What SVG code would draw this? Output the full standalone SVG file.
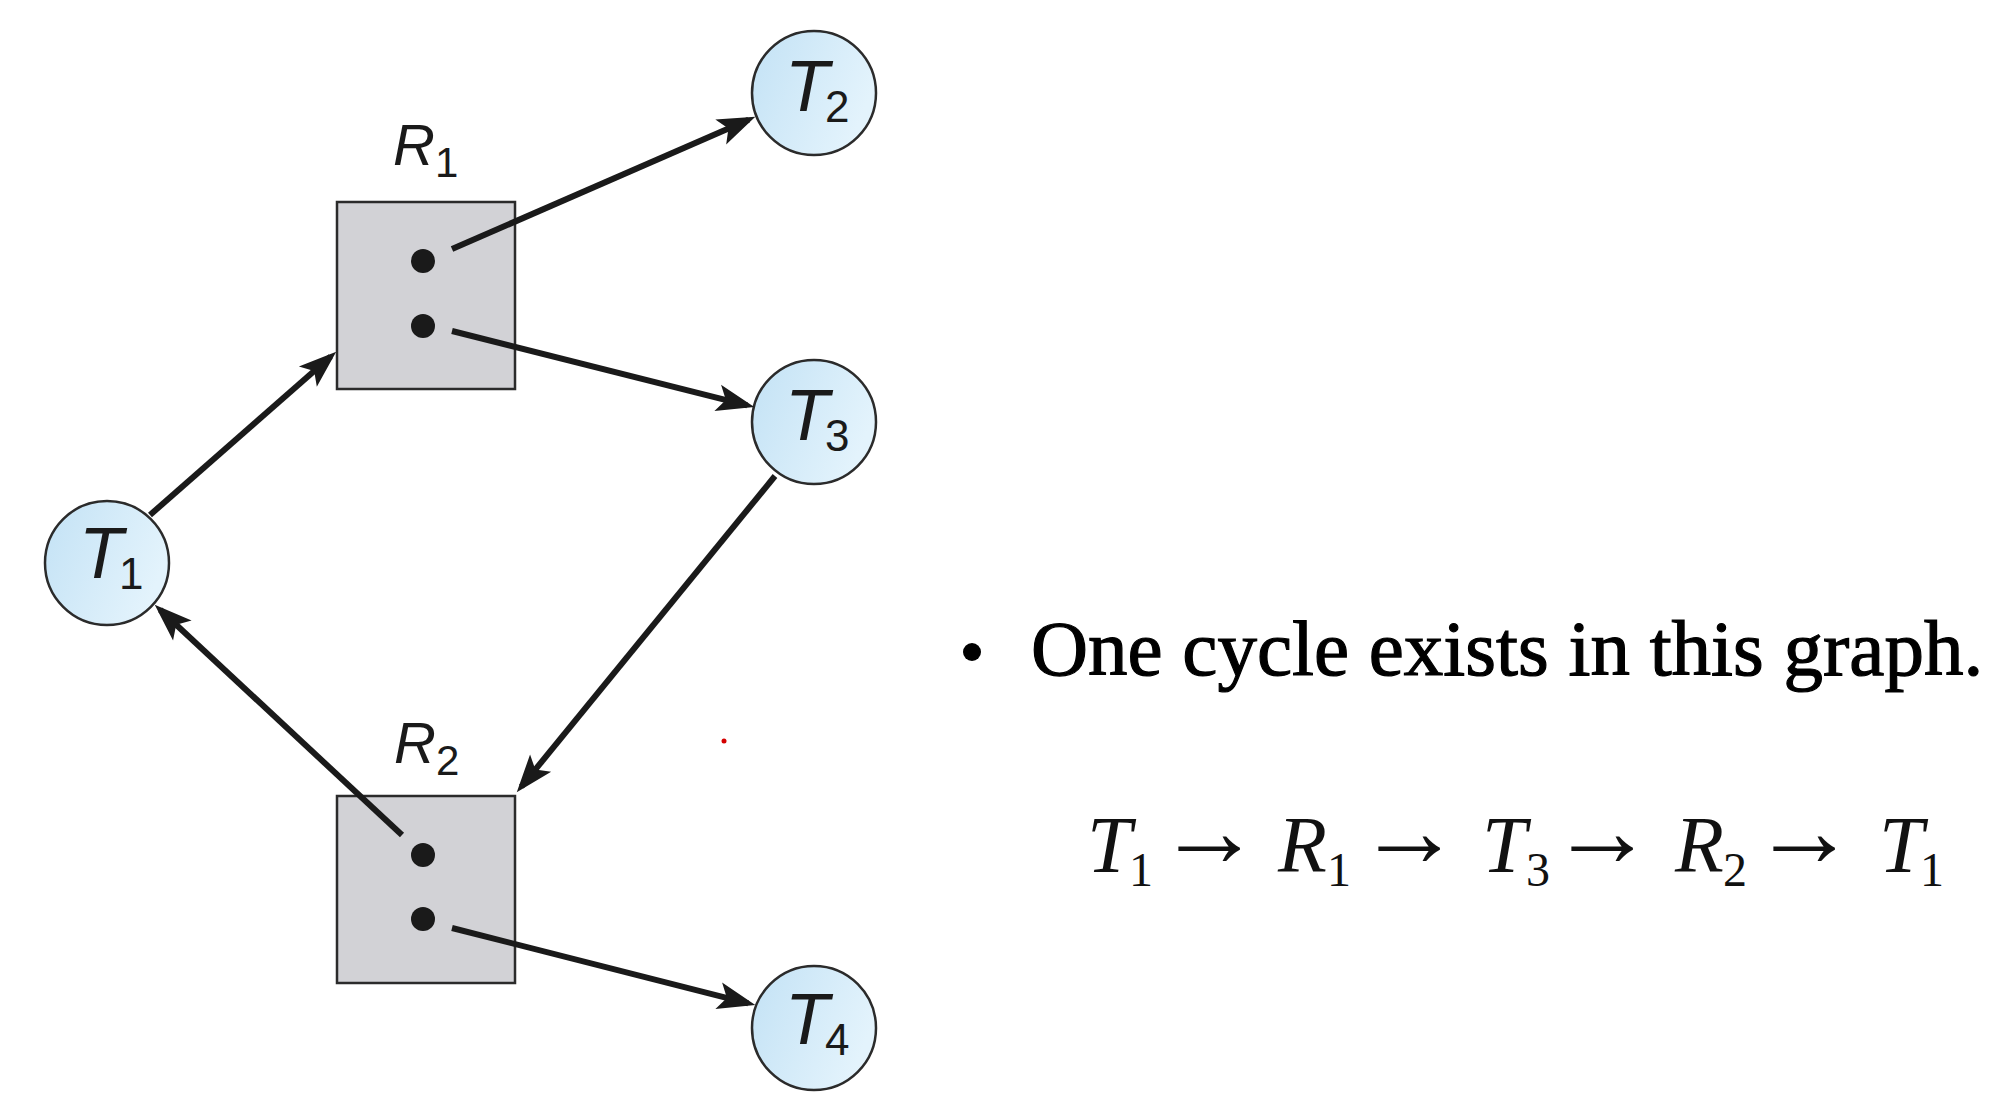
<svg xmlns="http://www.w3.org/2000/svg" width="2000" height="1102" viewBox="0 0 2000 1102">
  <defs>
    <linearGradient id="blue" x1="0" y1="0" x2="1" y2="0.4">
      <stop offset="0" stop-color="#c3e2f5"/>
      <stop offset="1" stop-color="#e3f3fc"/>
    </linearGradient>
    <marker id="arrow" markerUnits="userSpaceOnUse" markerWidth="44" markerHeight="34" viewBox="-2 -16 42 32" refX="29" refY="0" orient="auto">
      <path d="M0,-13 L36,0 L0,13 L8,0 Z" fill="#1a1a1a"/>
    </marker>
  </defs>
  <style>
    .proc { fill: url(#blue); stroke: #2b2b2b; stroke-width: 2.5; }
    .res { fill: #d2d2d6; stroke: #2b2b2b; stroke-width: 2.5; }
    .dot { fill: #1a1a1a; }
    .lbl { font-family: "Liberation Sans", Arial, sans-serif; font-style: italic; font-size: 72px; fill: #1a1a1a; }
    .sub { font-family: "Liberation Sans", Arial, sans-serif; font-style: normal; font-size: 44px; }
    .rl { font-family: "Liberation Sans", Arial, sans-serif; font-style: italic; font-size: 58px; fill: #1a1a1a; }
    .rsub { font-family: "Liberation Sans", Arial, sans-serif; font-style: normal; font-size: 42px; }
    .edge { stroke: #1a1a1a; stroke-width: 6; fill: none; marker-end: url(#arrow); }
    .txt { font-family: "Liberation Serif", "Times New Roman", serif; font-size: 79px; fill: #000; stroke: #000; stroke-width: 1.2; }
    .fi { font-family: "Liberation Serif", "Times New Roman", serif; font-style: italic; font-size: 80px; fill: #111; }
    .fs { font-family: "Liberation Serif", "Times New Roman", serif; font-size: 48px; fill: #111; }
    .fa { font-family: "Liberation Serif", "DejaVu Serif", serif; font-size: 104px; fill: #111; text-anchor: middle; }
  </style>
  <rect width="2000" height="1102" fill="#ffffff"/>

  <g id="R1">
    <rect class="res" x="337" y="202" width="178" height="187"/>
    <circle class="dot" cx="423" cy="261" r="12"/>
    <circle class="dot" cx="423" cy="326" r="12"/>
    <text class="rl" x="393" y="165">R<tspan class="rsub" dx="0" dy="12">1</tspan></text>
  </g>

  <g id="R2">
    <rect class="res" x="337" y="796" width="178" height="187"/>
    <circle class="dot" cx="423" cy="855" r="12"/>
    <circle class="dot" cx="423" cy="919" r="12"/>
    <text class="rl" x="394" y="763">R<tspan class="rsub" dx="0" dy="12">2</tspan></text>
  </g>

  <g id="T1">
    <circle class="proc" cx="107" cy="563" r="62"/>
    <text class="lbl" x="79" y="578">T<tspan class="sub" dx="-4" dy="11">1</tspan></text>
  </g>
  <g id="T2">
    <circle class="proc" cx="814" cy="93" r="62"/>
    <text class="lbl" x="785" y="111">T<tspan class="sub" dx="-4" dy="11">2</tspan></text>
  </g>
  <g id="T3">
    <circle class="proc" cx="814" cy="422" r="62"/>
    <text class="lbl" x="785" y="440">T<tspan class="sub" dx="-4" dy="11">3</tspan></text>
  </g>
  <g id="T4">
    <circle class="proc" cx="814" cy="1028" r="62"/>
    <text class="lbl" x="785" y="1044">T<tspan class="sub" dx="-4" dy="11">4</tspan></text>
  </g>

  <g id="connectors">
    <path class="edge" d="M150,515 L330.7,356.6"/>
    <path class="edge" d="M452,249 L748.6,119.8"/>
    <path class="edge" d="M452,331 L747.2,405.3"/>
    <path class="edge" d="M775,476 L521.4,786.6"/>
    <path class="edge" d="M402,835 L160.1,609.8"/>
    <path class="edge" d="M452,928 L748.2,1003.3"/>
  </g>

  <g id="text">
    <circle cx="972" cy="652" r="9" fill="#000"/>
    <text class="txt" x="1031" y="675">One cycle exists in this graph.</text>
  </g>

  <g id="formula">
    <text class="fi" x="1087" y="872">T</text>
    <text class="fs" x="1129" y="886">1</text>
    <text class="fa" x="1209" y="866">→</text>
    <text class="fi" x="1278" y="872">R</text>
    <text class="fs" x="1327" y="886">1</text>
    <text class="fa" x="1409" y="866">→</text>
    <text class="fi" x="1482" y="872">T</text>
    <text class="fs" x="1526" y="886">3</text>
    <text class="fa" x="1602" y="866">→</text>
    <text class="fi" x="1675" y="872">R</text>
    <text class="fs" x="1723" y="886">2</text>
    <text class="fa" x="1804" y="866">→</text>
    <text class="fi" x="1879" y="872">T</text>
    <text class="fs" x="1920" y="886">1</text>
  </g>

  <circle cx="724" cy="741" r="2.5" fill="#d40000"/>
</svg>
